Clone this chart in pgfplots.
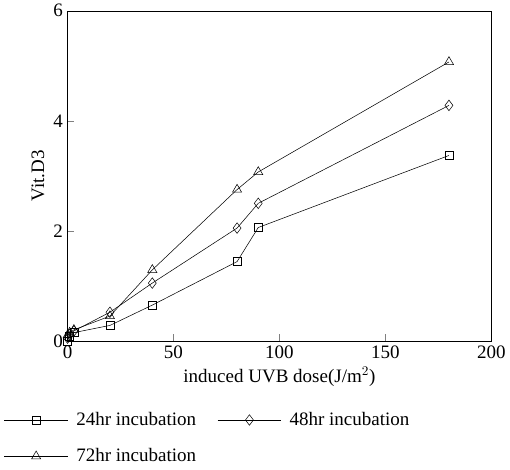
\documentclass[border=0pt]{standalone}
\usepackage{pgfplots}
\pgfplotsset{compat=1.18}
\usepackage{fontspec}
\setmainfont{Liberation Serif}
\begin{document}
\begin{tikzpicture}
\begin{axis}[
  width=321pt, height=250pt, scale only axis,
  xmin=0, xmax=200, ymin=0, ymax=6,
  xtick={0,50,100,150,200}, ytick={0,2,4,6},
  tick align=inside, tick pos=left,
  major tick length=5pt,
  /pgf/number format/assume math mode=true,
  tick label style={font=\Large},
  xlabel={induced UVB dose(J/m$^2$)}, ylabel={Vit.D3},
  label style={font=\Large},
  legend style={draw=none, at={(-0.16,-0.2)}, anchor=north west, font=\Large,
    row sep=12pt,
    nodes={inner xsep=6pt},
    /tikz/every even column/.append style={column sep=10pt}},
  legend columns=2,
  legend cell align=left,
  legend image code/.code={\draw[mark repeat=2, mark phase=2] plot coordinates {(0cm,0cm) (0.85cm,0cm) (1.7cm,0cm)};},
  every axis plot/.append style={black, thin, mark options={fill=white, solid}},
]
\addplot[mark=square, mark size=3pt] coordinates {(0,0) (1,0.08) (3,0.15) (20,0.28) (40,0.65) (80,1.44) (90,2.06) (180,3.37)};
\addlegendentry{24hr incubation}
\addplot[mark=diamond, mark size=4pt] coordinates {(0,0.05) (1,0.12) (3,0.18) (20,0.52) (40,1.05) (80,2.05) (90,2.5) (180,4.28)};
\addlegendentry{48hr incubation}
\addplot[mark=triangle, mark size=4pt] coordinates {(0,0.1) (1,0.15) (3,0.2) (20,0.45) (40,1.29) (80,2.75) (90,3.07) (180,5.07)};
\addlegendentry{72hr incubation}
\end{axis}
\end{tikzpicture}
\end{document}
